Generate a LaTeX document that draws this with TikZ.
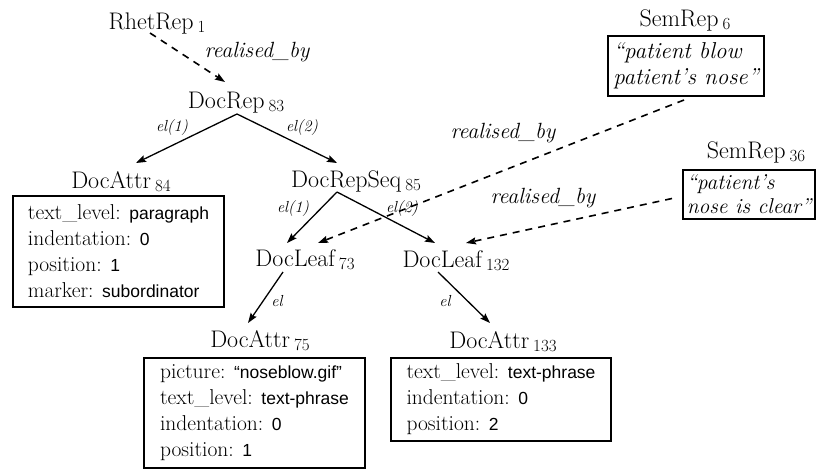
\documentclass[tikz,border=0pt]{standalone}
\usepackage{fontspec}
\newfontfamily\lmr{Latin Modern Roman}
\newfontfamily\helvf{Liberation Sans}
\usetikzlibrary{arrows.meta}
\newcommand\nm[2]{#1\kern4pt\raisebox{-3pt}{\fontsize{17}{17}\selectfont #2}}
\newcommand\val[1]{{\helvf\fontsize{17.5}{26}\selectfont #1}}
\begin{document}
\begin{tikzpicture}[x=1pt,y=-1pt,
  nmstyle/.style={anchor=base, inner sep=1pt, font=\lmr\fontsize{24}{26}\selectfont},
  box/.style={draw, line width=2pt, anchor=north west, align=left, inner xsep=2pt, inner ysep=0pt,
    font=\lmr\fontsize{21.5}{26}\selectfont},
  sbox/.style={draw, line width=2pt, anchor=north west, align=left, inner xsep=2pt, inner ysep=0pt,
    font=\lmr\itshape\fontsize{23}{26}\selectfont},
  edge/.style={line width=1.3pt, -{Stealth[length=10pt,width=7pt,inset=1.5pt]}},
  rb/.style={edge, dash pattern=on 7pt off 6pt, line width=1.6pt},
  lab/.style={font=\lmr\itshape\fontsize{16}{16}\selectfont, inner sep=0pt},
  rlab/.style={font=\lmr\itshape\fontsize{22}{24}\selectfont, inner sep=0pt}]
\useasboundingbox (0,0) rectangle (817,471);

% names
\node[nmstyle] (rhet) at (157,29) {\nm{RhetRep}{1}};
\node[nmstyle] (docrep) at (236,108) {\nm{DocRep}{83}};
\node[nmstyle] (da84) at (121,188) {\nm{DocAttr}{84}};
\node[nmstyle] (seq) at (356,187) {\nm{DocRepSeq}{85}};
\node[nmstyle] (dl73) at (305,266) {\nm{DocLeaf}{73}};
\node[nmstyle] (dl132) at (456,267) {\nm{DocLeaf}{132}};
\node[nmstyle] (da75) at (260,347) {\nm{DocAttr}{75}};
\node[nmstyle] (da133) at (503,348) {\nm{DocAttr}{133}};
\node[nmstyle] (sr6) at (685,27) {\nm{SemRep}{6}};
\node[nmstyle] (sr36) at (756,158) {\nm{SemRep}{36}};

% boxes
\node[box, minimum width=211pt, minimum height=111pt] (b84) at (12,195)
  {text\_level: \val{paragraph}\\ indentation: \val{0}\\ position: \val{1}\\ marker: \val{subordinator}};
\node[box, minimum width=221pt, minimum height=110pt] (b75) at (143,357)
  {picture: \val{“noseblow.gif”}\\ text\_level: \val{text-phrase}\\ indentation: \val{0}\\ position: \val{1}};
\node[box, minimum width=220pt, minimum height=83pt] (b133) at (390,357)
  {text\_level: \val{text-phrase}\\ indentation: \val{0}\\ position: \val{2}};
\node[sbox, minimum width=156pt, minimum height=60pt] (b6) at (607,35)
  {“patient blow\\ patient’s nose”};
\node[sbox, minimum width=132pt, minimum height=49pt, inner xsep=1pt,
  font=\lmr\itshape\fontsize{21.5}{24}\selectfont] (b36) at (682,169)
  {“patient’s\\ nose is clear”};

% solid connectors
\draw[edge] ([shift={(1,6)}]docrep.base) -- ([shift={(15,-25)}]da84.base);
\draw[edge] ([shift={(1,6)}]docrep.base) -- ([shift={(-19,-24)}]seq.base);
\draw[edge] ([shift={(-19,5)}]seq.base) -- ([shift={(-18,-23)}]dl73.base);
\draw[edge] ([shift={(-19,5)}]seq.base) -- ([shift={(-21,-24)}]dl132.base);
\draw[edge] ([shift={(-22,6)}]dl73.base) -- ([shift={(-12,-24)}]da75.base);
\draw[edge] ([shift={(-18,5)}]dl132.base) -- ([shift={(-13,-25)}]da133.base);

% dashed connectors
\draw[rb] ([shift={(-7,4)}]rhet.base) -- ([shift={(-11,-26)}]docrep.base);
\draw[rb] ([shift={(-2,3)}]b6.south) -- ([shift={(13,-23)}]dl73.base);
\draw[rb] ([shift={(-10,4)}]b36.west) -- ([shift={(10,-24)}]dl132.base);

% labels
\node[lab] (l1) at (172,128) {el(1)};
\node[lab] (l2) at (302,128) {el(2)};
\node[lab] (l3) at (293,209) {el(1)};
\node[lab] (l4) at (402,209) {el(2)};
\node[lab] (l5) at (277,301) {el};
\node[lab] (l6) at (445,301) {el};
\node[rlab] (r1) at (257,52) {realised\_by};
\node[rlab] (r2) at (503,133) {realised\_by};
\node[rlab] (r3) at (543,198) {realised\_by};
\end{tikzpicture}
\end{document}
